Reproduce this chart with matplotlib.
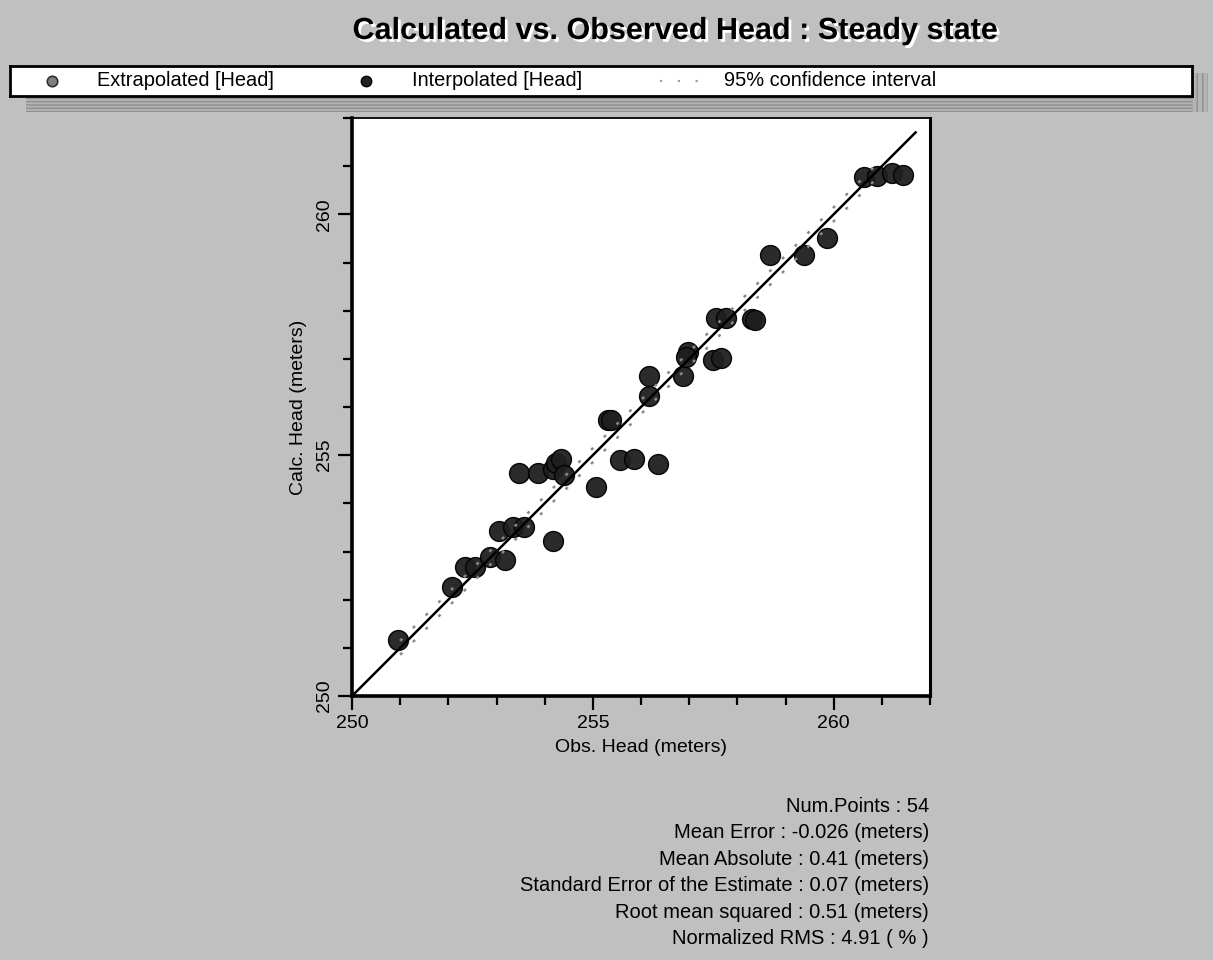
import numpy as np
import matplotlib
matplotlib.use('Agg')
import matplotlib.pyplot as plt
import matplotlib.patheffects as pe
from matplotlib.patches import Rectangle

plt.rcParams['font.family'] = ['Liberation Sans', 'DejaVu Sans']

# observed vs calculated heads (meters)
obs_head = [250.95, 252.07, 252.35, 252.55, 252.86, 253.17, 253.05, 253.35, 253.58, 254.17,
            253.46, 253.86, 254.17, 254.24, 254.34, 254.41, 255.06, 255.31, 255.38, 255.57,
            255.85, 256.36, 256.16, 256.16, 256.88, 256.97, 256.94, 257.49, 257.67, 257.56,
            257.77, 258.31, 258.36, 258.67, 259.39, 259.86, 260.64, 260.89, 261.22, 261.44]
calc_head = [251.16, 252.27, 252.67, 252.67, 252.88, 252.82, 253.43, 253.51, 253.50, 253.22,
             254.64, 254.62, 254.72, 254.83, 254.93, 254.59, 254.34, 255.73, 255.73, 254.90,
             254.92, 254.81, 256.22, 256.65, 256.65, 257.14, 257.04, 256.97, 257.01, 257.84,
             257.84, 257.82, 257.80, 259.15, 259.15, 259.51, 260.77, 260.79, 260.86, 260.82]

ci_range = [251.0, 260.9]
ci_halfwidth = 0.145
line_range = [250.0, 261.7]
axis_range = [250, 262]

stats_lines = ["Num.Points : 54",
               "Mean Error : -0.026 (meters)",
               "Mean Absolute : 0.41 (meters)",
               "Standard Error of the Estimate : 0.07 (meters)",
               "Root mean squared : 0.51 (meters)",
               "Normalized RMS : 4.91 ( % )"]

W, H = 1213, 960
bg = '#c0c0c0'
fig = plt.figure(figsize=(W / 100, H / 100), dpi=100, facecolor=bg)

def fx(px):
    return px / W

def fy(py):
    return 1 - py / H

# title with white drop shadow
fig.text(fx(675), fy(31), "Calculated vs. Observed Head : Steady state", ha='center', va='center',
         fontsize=22, fontweight='bold', color='black',
         path_effects=[pe.SimplePatchShadow(offset=(2, -2), shadow_rgbFace='white', alpha=1), pe.Normal()])

# legend box with striped shadow
plt.rcParams['hatch.linewidth'] = 1.0
shadow_bottom = Rectangle((fx(26), fy(112)), fx(1208) - fx(26), fy(96) - fy(112), transform=fig.transFigure,
                          facecolor='#b4b4b4', edgecolor='#8e8e8e', hatch='-----', linewidth=0, zorder=0)
shadow_right = Rectangle((fx(1192), fy(112)), fx(1208) - fx(1192), fy(73) - fy(112), transform=fig.transFigure,
                         facecolor='#b4b4b4', edgecolor='#8e8e8e', hatch='|||', linewidth=0, zorder=0)
fig.add_artist(shadow_bottom)
fig.add_artist(shadow_right)
lax = fig.add_axes([fx(10), fy(96), fx(1192) - fx(10), fy(66) - fy(96)])
lax.set_xlim(10, 1192)
lax.set_ylim(0, 1)
lax.set_xticks([])
lax.set_yticks([])
for s in lax.spines.values():
    s.set_linewidth(2)
lax.plot([52], [0.5], 'o', ms=7.5, mfc='#808080', mec='#303030', mew=1.2)
lax.text(97, 0.5, "Extrapolated [Head]", va='center', fontsize=14.4)
lax.plot([366], [0.5], 'o', ms=7.5, mfc='#222222', mec='#000000', mew=1)
lax.text(412, 0.5, "Interpolated [Head]", va='center', fontsize=14.4)
lax.plot([660, 700], [0.5, 0.5], color='#a0a0a0', lw=1.6, linestyle=(0, (1, 7)))
lax.text(724, 0.5, "95% confidence interval", va='center', fontsize=14.4)

# main scatter axes
ax = fig.add_axes([fx(352), fy(696), fx(930) - fx(352), fy(118) - fy(696)])
ax.set_facecolor('white')
ax.scatter(obs_head, calc_head, s=205, c='#1f1f1f', edgecolors='#000000', linewidths=1, alpha=0.95, zorder=3)
ax.plot(line_range, line_range, color='black', lw=1.8, zorder=4)
ci = np.array(ci_range)
ax.plot(ci, ci + ci_halfwidth, color='#8a8a8a', lw=1.8, linestyle=(0, (1.2, 6)), zorder=5)
ax.plot(ci, ci - ci_halfwidth, color='#8a8a8a', lw=1.8, linestyle=(0, (1.2, 6)), zorder=5)

ax.set_xlim(axis_range)
ax.set_ylim(axis_range)
ax.set_xticks([250, 255, 260])
ax.set_yticks([250, 255, 260])
ax.set_xticks(np.arange(250, 263, 1), minor=True)
ax.set_yticks(np.arange(250, 263, 1), minor=True)
ax.tick_params(which='major', direction='out', length=10, width=1.6, labelsize=14, pad=4)
ax.tick_params(which='minor', direction='out', length=6.5, width=1.6)
for lab in ax.get_yticklabels():
    lab.set_rotation(90)
    lab.set_va('center')
ax.spines['left'].set_linewidth(2.6)
ax.spines['bottom'].set_linewidth(2.6)
ax.spines['right'].set_linewidth(2.2)
ax.spines['top'].set_linewidth(1.3)
ax.set_xlabel("Obs. Head (meters)", fontsize=14, labelpad=5)
ax.set_ylabel("Calc. Head (meters)", fontsize=14, labelpad=6)

# statistics
for i, line in enumerate(stats_lines):
    fig.text(fx(929), fy(806 + i * 26.6), line, ha='right', va='center', fontsize=14.5)

fig.savefig('out.png', dpi=100, facecolor=bg)
